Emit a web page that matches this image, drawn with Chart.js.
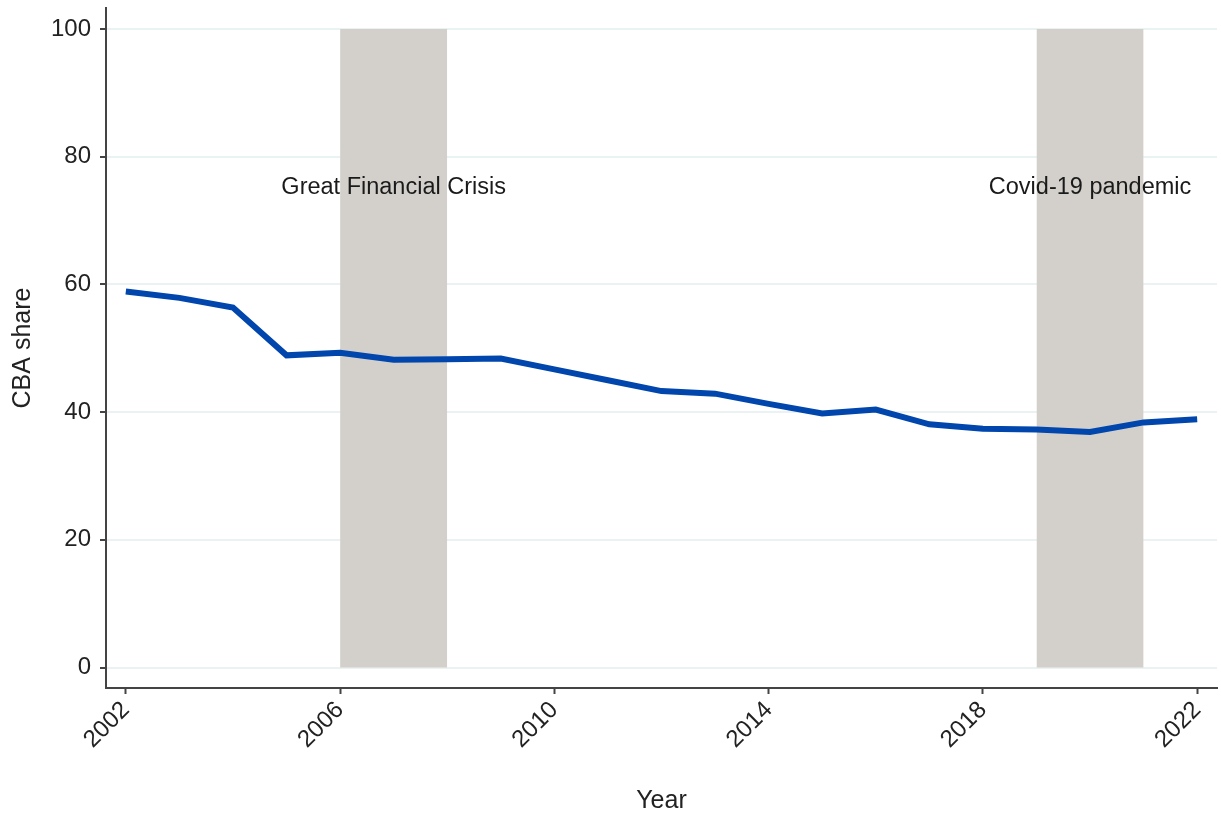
<!DOCTYPE html>
<html>
<head>
<meta charset="utf-8">
<script src="https://cdn.jsdelivr.net/npm/chart.js@4/dist/chart.umd.min.js"></script>
<style>
  html, body { margin: 0; padding: 0; background: #fff; }
  #wrap { width: 1221px; height: 819px; }
</style>
</head>
<body>
<div id="wrap"><canvas id="cbaChart"></canvas></div>
<script>
const years = [2002, 2003, 2004, 2005, 2006, 2007, 2008, 2009, 2010, 2011, 2012,
               2013, 2014, 2015, 2016, 2017, 2018, 2019, 2020, 2021, 2022];
const cbaShare = [58.9, 57.9, 56.4, 48.9, 49.3, 48.2, 48.3, 48.4, 46.7, 45.0, 43.3,
                  42.9, 41.3, 39.8, 40.4, 38.1, 37.4, 37.3, 36.9, 38.4, 38.9];

// shaded periods
const crisisStart = [2006, 2019];
const crisisEnd = [2008, 2021];
const crisisLabels = ['Great Financial Crisis', 'Covid-19 pandemic'];
const crisisTop = 100;
const labelLevel = 75.2;

const xTicks = [2002, 2006, 2010, 2014, 2018, 2022];
const yTicks = [0, 20, 40, 60, 80, 100];

const bandSets = crisisStart.map((s, i) => ({
    label: crisisLabels[i],
    data: [{ x: s, y: crisisTop }, { x: crisisEnd[i], y: crisisTop }],
    fill: 'origin',
    backgroundColor: '#d3d0cb',
    borderWidth: 0,
    pointRadius: 0,
    order: 2
}));

const bandLabels = {
    id: 'bandLabels',
    afterDatasetsDraw(chart) {
        const ctx = chart.ctx;
        const xs = chart.scales.x, ys = chart.scales.y;
        ctx.save();
        ctx.font = '23.5px "Liberation Sans", Arial, sans-serif';
        ctx.fillStyle = '#1a1a1a';
        ctx.textAlign = 'center';
        ctx.textBaseline = 'middle';
        crisisLabels.forEach((t, i) => {
            const mid = (crisisStart[i] + crisisEnd[i]) / 2;
            ctx.fillText(t, xs.getPixelForValue(mid), ys.getPixelForValue(labelLevel));
        });
        ctx.restore();
    }
};

const tickFont = { family: '"Liberation Sans", Arial, sans-serif', size: 24 };
const titleFont = { family: '"Liberation Sans", Arial, sans-serif', size: 25 };

const ctxCba = document.getElementById('cbaChart').getContext('2d');
const cbaChart = new Chart(ctxCba, {
    type: 'line',
    data: {
        datasets: [{
            label: 'CBA share',
            data: years.map((y, i) => ({ x: y, y: cbaShare[i] })),
            borderColor: '#0046ad',
            borderWidth: 6,
            fill: false,
            tension: 0,
            pointRadius: 0,
            order: 1
        }].concat(bandSets)
    },
    options: {
        responsive: true,
        maintainAspectRatio: false,
        animation: false,
        layout: { padding: { top: 8, right: 4, left: 0, bottom: 0 } },
        plugins: { legend: { display: false }, tooltip: { enabled: false } },
        scales: {
            x: {
                type: 'linear',
                min: 2001.63,
                max: 2022.37,
                afterBuildTicks: s => { s.ticks = xTicks.map(v => ({ value: v })); },
                afterFit: s => { s.height = 131; },
                ticks: {
                    font: tickFont, color: '#222', minRotation: 45, maxRotation: 45,
                    padding: 2, callback: v => String(v)
                },
                grid: { drawOnChartArea: false, drawTicks: true, tickLength: 6, tickColor: '#444', tickWidth: 2 },
                border: { color: '#444', width: 2 },
                title: { display: true, text: 'Year', font: titleFont, color: '#222', padding: { top: 0, bottom: 3 } }
            },
            y: {
                min: -3.2,
                max: 103.3,
                afterBuildTicks: s => { s.ticks = yTicks.map(v => ({ value: v })); },
                afterFit: s => { s.width = 106; s.paddingTop = 0; s.paddingBottom = 0; },
                ticks: { font: tickFont, color: '#222', padding: 9 },
                grid: { color: '#eaf2f3', lineWidth: 2, tickLength: 6, tickColor: '#444', tickWidth: 2 },
                border: { color: '#444', width: 2 },
                title: { display: true, text: 'CBA share', font: titleFont, color: '#222', padding: { top: 8, bottom: 0 } }
            }
        }
    },
    plugins: [bandLabels]
});
</script>
</body>
</html>
